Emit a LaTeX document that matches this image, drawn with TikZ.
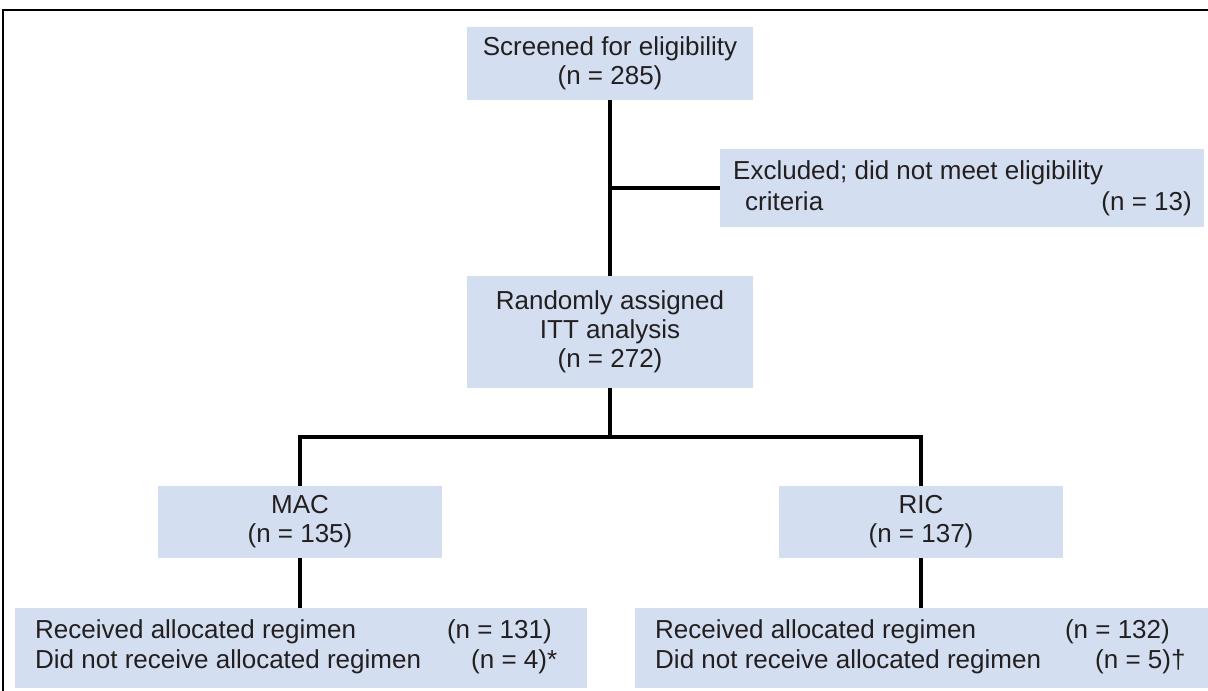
\documentclass[tikz,border=0pt]{standalone}
\usepackage{fontspec}
\setmainfont{Liberation Sans}
\definecolor{boxfill}{RGB}{211,223,240}
\definecolor{ink}{RGB}{35,31,32}
\begin{document}
\begin{tikzpicture}[x=1pt,y=-1pt,
  every node/.style={text=ink,font=\fontsize{26}{29}\selectfont},
  flowbox/.style={fill=boxfill,inner sep=0pt,align=center},
  label/.style={inner sep=0pt},
  link/.style={draw=black,line width=3.5pt,line join=miter}]
  \useasboundingbox (0,0) rectangle (1208,691);
  % outer frame (top and left edges)
  \draw[line width=2.5pt] (3,691) -- (3,10) -- (1208,10);

  % boxes
  \node[flowbox,minimum width=286pt,minimum height=73pt] (scr) at (610,63.5)
    {Screened for eligibility\\(n = 285)};
  \node[flowbox,minimum width=484pt,minimum height=78pt] (excl) at (962,188) {};
  \node[flowbox,minimum width=286pt,minimum height=112pt] (rand) at (610,332)
    {Randomly assigned\\ITT analysis\\(n = 272)};
  \node[flowbox,minimum width=284pt,minimum height=72pt] (mac) at (300,522)
    {MAC\\(n = 135)};
  \node[flowbox,minimum width=284pt,minimum height=72pt] (ric) at (921,522)
    {RIC\\(n = 137)};
  \node[flowbox,minimum width=572pt,minimum height=80pt] (lb) at (301,648) {};
  \node[flowbox,minimum width=573pt,minimum height=80pt] (rb) at (921.5,648) {};

  % excluded box text
  \node[label,anchor=base west] (ex1) at (733,179) {Excluded; did not meet eligibility};
  \node[label,anchor=base west] (ex2) at (745,210) {criteria};
  \node[label,anchor=base east] (ex3) at (1192,210) {(n = 13)};

  % allocation texts
  \node[label,anchor=base west] (l1) at (35,638) {Received allocated regimen};
  \node[label,anchor=base east] (l1n) at (552,638) {(n = 131)};
  \node[label,anchor=base west] (l2) at (35,668) {Did not receive allocated regimen};
  \node[label,anchor=base west] (l2n) at (471,668) {(n = 4)*};
  \node[label,anchor=base west] (r1) at (655,638) {Received allocated regimen};
  \node[label,anchor=base east] (r1n) at (1170,638) {(n = 132)};
  \node[label,anchor=base west] (r2) at (655,668) {Did not receive allocated regimen};
  \node[label,anchor=base west] (r2n) at (1095,668) {(n = 5)†};

  % connectors
  \coordinate (bar) at (610,437);
  \draw[link] (scr.south) -- (rand.north);
  \draw[link] (scr.south |- excl.west) -- (excl.west);
  \draw[link] (rand.south) -- (bar);
  \draw[link] (mac.north) |- (bar) -| (ric.north);
  \draw[link] (mac.south) -- (mac.south |- lb.north);
  \draw[link] (ric.south) -- (ric.south |- rb.north);
\end{tikzpicture}
\end{document}
